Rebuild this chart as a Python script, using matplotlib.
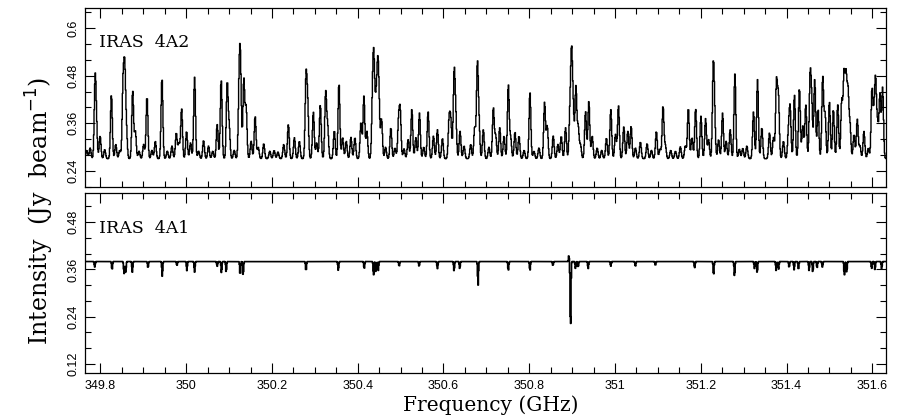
import numpy as np
import matplotlib
matplotlib.use("Agg")
import matplotlib.pyplot as plt
from matplotlib.ticker import MultipleLocator

# ---------------- data ----------------
freq_min, freq_max = 349.764, 351.632

# IRAS 4A2: emission lines (centre frequency GHz, peak intensity Jy/beam)
a2_baseline = 0.271
a2_line_freq = [
    349.7680, 349.7760, 349.7876, 349.7907, 349.7992, 349.8100, 349.8256, 349.8357,
    349.8450, 349.8527, 349.8566, 349.8605, 349.8752, 349.8814, 349.8900, 349.9008,
    349.9086, 349.9200, 349.9280, 349.9435, 349.9560, 349.9668, 349.9769, 349.9830,
    349.9893, 350.0009, 350.0102, 350.0196, 350.0290, 350.0405, 350.0521, 350.0620,
    350.0723, 350.0816, 350.0956, 350.1003, 350.1120, 350.1235, 350.1266, 350.1344,
    350.1398, 350.1515, 350.1608, 350.1680, 350.1809, 350.1950, 350.2050, 350.2140,
    350.2275, 350.2383, 350.2523, 350.2639, 350.2794, 350.2833, 350.2965, 350.3043,
    350.3128, 350.3252, 350.3299, 350.3454, 350.3563, 350.3648, 350.3733, 350.3842,
    350.3935, 350.4075, 350.4144, 350.4214, 350.4346, 350.4377, 350.4424, 350.4463,
    350.4494, 350.4556, 350.4650, 350.4773, 350.4870, 350.4952, 350.4991, 350.5080,
    350.5177, 350.5262, 350.5356, 350.5440, 350.5540, 350.5642, 350.5766, 350.5859,
    350.5976, 350.6131, 350.6170, 350.6248, 350.6286, 350.6387, 350.6480, 350.6635,
    350.6728, 350.6790, 350.6829, 350.6930, 350.7060, 350.7163, 350.7218, 350.7311,
    350.7412, 350.7512, 350.7567, 350.7668, 350.7761, 350.7880, 350.8017, 350.8110,
    350.8226, 350.8358, 350.8420, 350.8560, 350.8668, 350.8746, 350.8847, 350.8948,
    350.8987, 350.9026, 350.9088, 350.9142, 350.9196, 350.9313, 350.9390, 350.9468,
    350.9584, 350.9690, 350.9801, 350.9902, 351.0011, 351.0081, 351.0205, 351.0298,
    351.0376, 351.0477, 351.0593, 351.0748, 351.0850, 351.0965, 351.1050, 351.1120,
    351.1175, 351.1300, 351.1410, 351.1524, 351.1640, 351.1710, 351.1795, 351.1880,
    351.2004, 351.2113, 351.2183, 351.2292, 351.2323, 351.2416, 351.2509, 351.2594,
    351.2687, 351.2796, 351.2900, 351.2980, 351.3075, 351.3230, 351.3324, 351.3425,
    351.3603, 351.3696, 351.3766, 351.3812, 351.3929, 351.4045, 351.4084, 351.4185,
    351.4301, 351.4379, 351.4449, 351.4550, 351.4588, 351.4658, 351.4736, 351.4844,
    351.4899, 351.5000, 351.5093, 351.5194, 351.5287, 351.5341, 351.5388, 351.5434,
    351.5481, 351.5574, 351.5651, 351.5713, 351.5806, 351.5907, 351.5993, 351.6039,
    351.6078, 351.6125, 351.6179, 351.6241,
]
a2_line_peak = [
    0.292, 0.298, 0.460, 0.340, 0.328, 0.294, 0.432, 0.307,
    0.292, 0.445, 0.480, 0.340, 0.442, 0.340, 0.290, 0.307,
    0.428, 0.292, 0.315, 0.474, 0.290, 0.303, 0.336, 0.310,
    0.397, 0.340, 0.311, 0.476, 0.290, 0.317, 0.303, 0.290,
    0.357, 0.470, 0.461, 0.349, 0.292, 0.441, 0.480, 0.470,
    0.399, 0.315, 0.378, 0.300, 0.309, 0.290, 0.292, 0.288,
    0.307, 0.357, 0.324, 0.315, 0.467, 0.399, 0.389, 0.311,
    0.407, 0.436, 0.349, 0.342, 0.461, 0.324, 0.315, 0.325,
    0.324, 0.361, 0.428, 0.340, 0.407, 0.488, 0.390, 0.461,
    0.403, 0.370, 0.300, 0.349, 0.298, 0.361, 0.386, 0.296,
    0.319, 0.395, 0.324, 0.386, 0.300, 0.389, 0.328, 0.344,
    0.322, 0.365, 0.361, 0.480, 0.370, 0.340, 0.303, 0.307,
    0.349, 0.503, 0.350, 0.344, 0.300, 0.399, 0.328, 0.349,
    0.328, 0.457, 0.323, 0.338, 0.328, 0.292, 0.438, 0.290,
    0.298, 0.413, 0.353, 0.328, 0.307, 0.328, 0.349, 0.374,
    0.520, 0.382, 0.451, 0.349, 0.305, 0.390, 0.415, 0.328,
    0.298, 0.292, 0.323, 0.395, 0.332, 0.405, 0.351, 0.340,
    0.353, 0.298, 0.313, 0.309, 0.292, 0.340, 0.295, 0.403,
    0.303, 0.292, 0.290, 0.301, 0.303, 0.399, 0.324, 0.397,
    0.378, 0.372, 0.319, 0.488, 0.357, 0.319, 0.386, 0.315,
    0.344, 0.484, 0.295, 0.297, 0.303, 0.389, 0.470, 0.349,
    0.336, 0.324, 0.461, 0.422, 0.315, 0.336, 0.395, 0.432,
    0.449, 0.353, 0.407, 0.468, 0.399, 0.470, 0.395, 0.476,
    0.382, 0.415, 0.395, 0.407, 0.415, 0.478, 0.466, 0.432,
    0.353, 0.332, 0.370, 0.303, 0.340, 0.297, 0.441, 0.361,
    0.459, 0.349, 0.432, 0.449,
]

# IRAS 4A1: continuum with absorption dips (centre frequency GHz, minimum intensity)
a1_continuum = 0.380
a1_dip_freq = [
    349.7867, 349.8271, 349.8550, 349.8589, 349.8744, 349.9109, 349.9442, 349.9784,
    350.0016, 350.0195, 350.0723, 350.0823, 350.0932, 350.1258, 350.1328, 350.2794,
    350.3547, 350.4152, 350.4369, 350.4424, 350.4478, 350.4967, 350.5432, 350.5859,
    350.6247, 350.6379, 350.6806, 350.7512, 350.8016, 350.8552, 350.8963, 350.9079,
    350.9141, 350.9374, 350.9902, 351.0476, 351.0942, 351.1857, 351.2299, 351.2788,
    351.3254, 351.3316, 351.3758, 351.3813, 351.4061, 351.4177, 351.4278, 351.4526,
    351.4612, 351.4712, 351.4837, 351.5349, 351.5403, 351.5985, 351.6063, 351.6218,
]
a1_dip_min = [
    0.366, 0.359, 0.349, 0.353, 0.353, 0.364, 0.342, 0.370,
    0.357, 0.353, 0.368, 0.351, 0.353, 0.345, 0.345, 0.356,
    0.357, 0.362, 0.345, 0.353, 0.357, 0.368, 0.368, 0.362,
    0.356, 0.362, 0.319, 0.357, 0.357, 0.370, 0.202, 0.362,
    0.366, 0.362, 0.368, 0.368, 0.370, 0.364, 0.345, 0.342,
    0.362, 0.351, 0.357, 0.360, 0.365, 0.359, 0.359, 0.357,
    0.353, 0.364, 0.366, 0.345, 0.353, 0.362, 0.359, 0.362,
]
a1_emis_freq = [350.8924]
a1_emis_peak = [0.396]

# ---------------- spectra built from the line lists ----------------
chan = np.arange(freq_min, freq_max, 0.0012)


def build(base, centres, levels, sigma):
    spec = np.full_like(chan, base)
    for c, lv in zip(centres, levels):
        spec += (lv - base) * np.exp(-0.5 * ((chan - c) / sigma) ** 2)
    return spec


spec_a2 = build(a2_baseline, a2_line_freq, a2_line_peak, 0.0021)
spec_a1 = build(a1_continuum, a1_dip_freq, a1_dip_min, 0.0010)
spec_a1 += build(0.0, a1_emis_freq, np.array(a1_emis_peak) - a1_continuum, 0.0008)

# ---------------- figure ----------------
W, H = 903, 419
fig = plt.figure(figsize=(W / 100, H / 100), dpi=100)
serif = "DejaVu Serif"
tickfont = "Liberation Sans"

ax1 = fig.add_axes([85 / W, 1 - 187 / H, 801 / W, 179 / H])
ax2 = fig.add_axes([85 / W, 1 - 373 / H, 801 / W, 180 / H])

ax1.plot(chan, spec_a2, drawstyle="steps-mid", color="black", lw=1.0)
ax2.plot(chan, spec_a1, drawstyle="steps-mid", color="black", lw=1.2)

ax1.set_ylim(0.20, 0.65)
ax2.set_ylim(0.097, 0.554)

fmt = plt.FuncFormatter(lambda v, p: f"{v:g}")
for ax in (ax1, ax2):
    ax.set_xlim(freq_min, freq_max)
    ax.xaxis.set_major_locator(MultipleLocator(0.2))
    ax.xaxis.set_minor_locator(MultipleLocator(0.05))
    ax.yaxis.set_major_locator(MultipleLocator(0.12))
    ax.yaxis.set_minor_locator(MultipleLocator(0.04))
    ax.xaxis.set_major_formatter(fmt)
    ax.yaxis.set_major_formatter(fmt)
    ax.tick_params(which="both", direction="in", top=True, right=True, width=0.8)
    ax.tick_params(which="major", length=7)
    ax.tick_params(which="minor", length=4)
    ax.tick_params(axis="y", labelrotation=90, labelsize=9, pad=4)
    ax.tick_params(axis="x", labelsize=9, pad=5)
    for sp in ax.spines.values():
        sp.set_linewidth(0.9)
    for lab in ax.get_yticklabels():
        lab.set_va("center")
        lab.set_fontfamily(tickfont)
    for lab in ax.get_xticklabels():
        lab.set_fontfamily(tickfont)

ax1.tick_params(labelbottom=False)

ax1.text(0.017, 0.78, "IRAS  4A2", transform=ax1.transAxes, fontfamily=serif, fontsize=12.5)
ax2.text(0.017, 0.78, "IRAS  4A1", transform=ax2.transAxes, fontfamily=serif, fontsize=12.5)

fig.text(491 / W, 1 - 405 / H, "Frequency (GHz)", ha="center", va="center",
         fontfamily=serif, fontsize=14.5)
fig.text(40 / W, 1 - 211 / H, "Intensity  (Jy  beam$^{-1}$)", rotation=90,
         ha="center", va="center", fontfamily=serif, fontsize=17)

fig.savefig("out.png", dpi=100)
